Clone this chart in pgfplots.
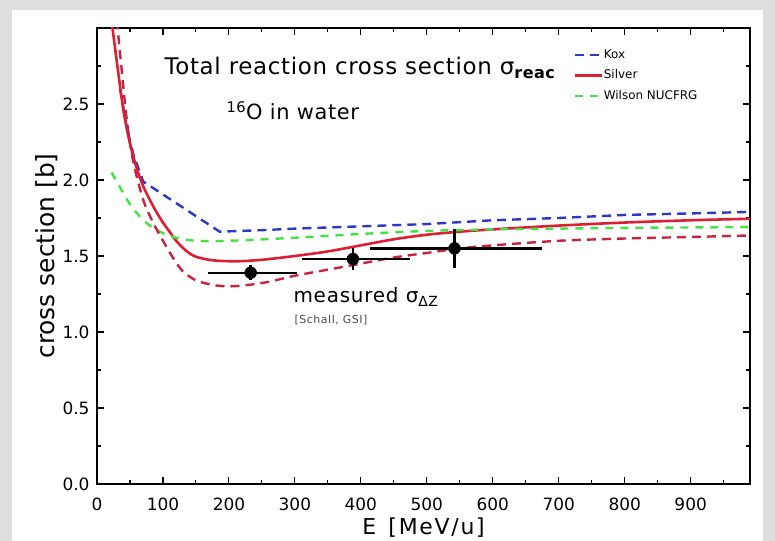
\documentclass[border=0pt]{standalone}
\usepackage{fontspec}
\setmainfont{DejaVu Sans}
\usepackage{pgfplots}
\pgfplotsset{compat=1.18}
\definecolor{kox}{RGB}{45,55,200}
\definecolor{silver}{RGB}{222,30,50}
\definecolor{silverlow}{RGB}{200,35,65}
\definecolor{wilson}{RGB}{70,225,70}
\definecolor{frame}{RGB}{222,222,222}
\begin{document}
\begin{tikzpicture}[x=1bp,y=1bp]
\fill[frame] (0,0) rectangle (775,541);
\fill[white] (12,0) rectangle (763,531);
\begin{axis}[
  at={(97bp,57bp)}, anchor=south west,
  scale only axis, width=653bp, height=456bp,
  xmin=0, xmax=990, ymin=0, ymax=3,
  xtick={0,100,...,900},
  minor xtick={50,150,...,950},
  ytick={0,0.5,...,2.5},
  minor ytick={0.25,0.75,...,2.75},
  tick align=inside,
  major tick length=7bp, minor tick length=4bp,
  every tick/.style={black, line width=1.1bp},
  axis line style={line width=1.4bp},
  /pgf/number format/assume math mode=true,
  ticklabel style={font=\fontsize{17}{17}\selectfont},
  xticklabel style={yshift=-10bp},
  yticklabel style={xshift=-4bp, /pgf/number format/.cd, fixed, fixed zerofill, precision=1},
  xlabel={E\, [MeV/u]},
  ylabel={cross section [b]},
  ylabel style={font=\fontsize{25}{25}\selectfont, at={(axis description cs:-0.077,0.5)}, anchor=center},
  xlabel style={font=\fontsize{22}{22}\addfontfeature{LetterSpace=8}\selectfont, at={(axis description cs:0.5,-0.095)}, anchor=center},
  legend style={at={(axis description cs:0.729,0.955)}, anchor=north west,
    draw=none, fill=none, font=\fontsize{12}{12}\selectfont,
    row sep=8bp, inner sep=0pt,
    nodes={inner sep=1bp}},
  legend cell align=left,
  legend image code/.code={\draw[#1] (0bp,0bp) -- (27bp,0bp);},
]
% Kox
\addplot[kox, line width=2.4bp, dash pattern=on 9bp off 6bp] coordinates {
(35,2.6) (45,2.35) (55,2.17) (70,1.99) (186,1.66) (250,1.67) (300,1.68)
(400,1.695) (500,1.71) (600,1.735) (700,1.75) (800,1.77) (900,1.78) (990,1.79)};
\addlegendentry{Kox}
% Silver
\addplot[silver, line width=2.6bp, smooth] coordinates {
(22,3.05) (30,2.78) (40,2.46) (50,2.24) (60,2.08) (70,1.96) (80,1.87) (90,1.79)
(100,1.72) (110,1.66) (120,1.60) (135,1.535) (150,1.495) (175,1.472) (210,1.465)
(250,1.475) (300,1.50) (350,1.53) (400,1.57) (450,1.61) (500,1.64) (550,1.66)
(600,1.675) (700,1.70) (800,1.72) (900,1.735) (990,1.745)};
\addlegendentry{Silver}
% Wilson NUCFRG
\addplot[wilson, line width=2.4bp, dash pattern=on 8bp off 7bp, smooth] coordinates {
(22,2.05) (35,1.95) (50,1.84) (65,1.76) (80,1.70) (100,1.65) (120,1.62) (150,1.60)
(200,1.60) (300,1.62) (400,1.645) (500,1.665) (600,1.675) (700,1.68) (800,1.685) (990,1.69)};
\addlegendentry{Wilson NUCFRG}
% lower red dashed
\addplot[silverlow, line width=2.4bp, dash pattern=on 9bp off 6bp, smooth, forget plot] coordinates {
(30,3.05) (38,2.7) (45,2.4) (55,2.12) (70,1.87) (85,1.72) (100,1.60) (115,1.49)
(130,1.40) (150,1.34) (175,1.31) (200,1.30) (230,1.31) (260,1.33) (300,1.37)
(350,1.41) (400,1.45) (450,1.49) (500,1.52) (550,1.55) (600,1.57) (700,1.60)
(800,1.615) (900,1.625) (990,1.635)};
% measured points
\addplot[black, only marks, mark=*, mark size=6bp, forget plot,
  error bars/.cd, x dir=both, x explicit, y dir=both, y explicit,
  error bar style={line width=2.4bp}, error mark=none]
  table[x=x, y=y, x error plus=xp, x error minus=xm, y error=ye] {
  x   y    xp  xm  ye
  233 1.39 70  65  0.05
  388 1.48 86  77  0.07
  542 1.55 132 128 0.13
  };
\end{axis}
\node[anchor=base west, font=\fontsize{23}{23}\addfontfeature{LetterSpace=3}\selectfont] at (161,466) {Total reaction cross section σ\textsubscript{\bfseries reac}};
\node[anchor=base west, font=\fontsize{21}{21}\addfontfeature{LetterSpace=3}\selectfont] at (223,421) {\textsuperscript{16}O in water};
\node[anchor=base west, font=\fontsize{20}{20}\addfontfeature{LetterSpace=4}\selectfont] at (290,238) {measured σ\textsubscript{ΔZ}};
\node[anchor=base west, font=\fontsize{11}{11}\addfontfeature{LetterSpace=5}\selectfont, text=black!70] at (291,217) {[Schall, GSI]};
\pgfresetboundingbox
\path[use as bounding box] (0,0) rectangle (775,541);
\end{tikzpicture}
\end{document}
